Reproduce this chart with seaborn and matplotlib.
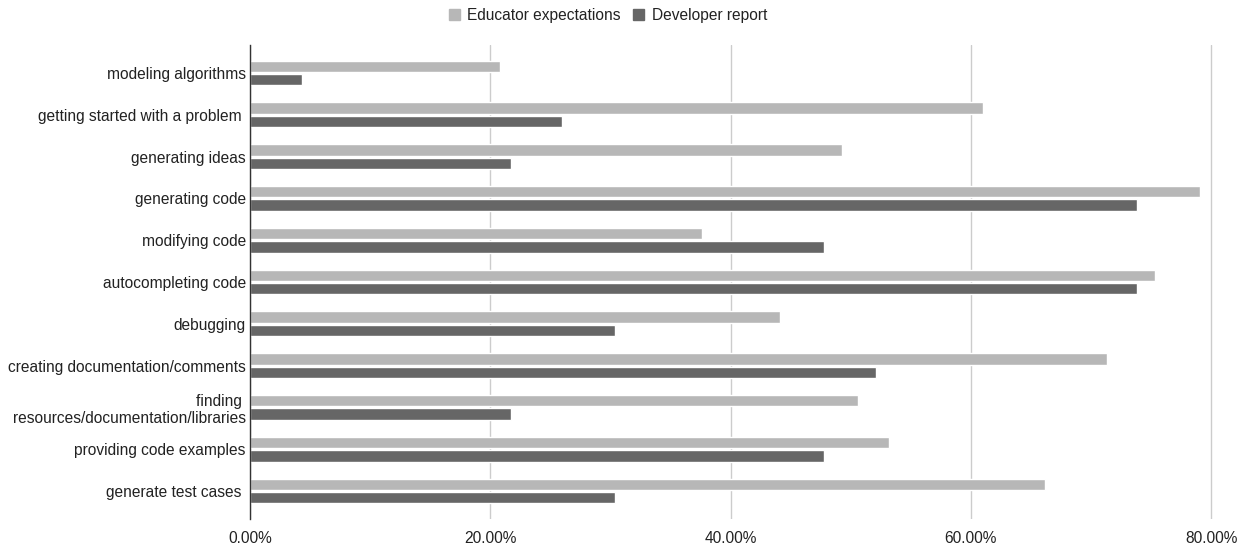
import pandas as pd
import matplotlib.pyplot as plt
import seaborn as sns
from matplotlib.patches import Patch
from matplotlib.ticker import FuncFormatter

# Data (percent)
tasks = [
    "modeling algorithms",
    "getting started with a problem ",
    "generating ideas",
    "generating code",
    "modifying code",
    "autocompleting code",
    "debugging",
    "creating documentation/comments",
    "finding \nresources/documentation/libraries",
    "providing code examples",
    "generate test cases ",
]
educator = [20.8, 61.0, 49.3, 79.1, 37.6, 75.3, 44.1, 71.3, 50.6, 53.2, 66.2]
developer = [4.3, 26.0, 21.7, 73.8, 47.8, 73.8, 30.4, 52.1, 21.7, 47.8, 30.4]
series_names = ["Educator expectations", "Developer report"]
colors = ["#b7b7b7", "#666666"]
x_ticks = [0, 20, 40, 60, 80]

df = pd.DataFrame({
    "task": tasks * 2,
    "value": educator + developer,
    "series": [series_names[0]] * len(tasks) + [series_names[1]] * len(tasks),
})

sns.set_style("white")
plt.rcParams["font.family"] = ["Liberation Sans", "DejaVu Sans"]

fig = plt.figure(figsize=(12.51, 5.46), dpi=100)
ax = fig.add_axes([250 / 1251, 1 - 519 / 546, (1213 - 250) / 1251, (519 - 45) / 546])

sns.barplot(data=df, y="task", x="value", hue="series", order=tasks,
            hue_order=series_names, palette=colors, orient="h",
            width=0.64, gap=0.14, saturation=1, legend=False, ax=ax)
for p in ax.patches:
    p.set_zorder(3)

ax.set_xlim(0, 80.15)
ax.set_ylim(10.67, -0.67)
ax.set_xticks(x_ticks)
ax.xaxis.set_major_formatter(FuncFormatter(lambda v, p: f"{v:.2f}%"))
ax.set_axisbelow(True)
ax.grid(axis="x", color="#cccccc", linewidth=1, zorder=0)
for s in ["top", "right", "bottom"]:
    ax.spines[s].set_visible(False)
ax.spines["left"].set_color("#333333")
ax.spines["left"].set_linewidth(1)
ax.spines["left"].set_zorder(4)
ax.tick_params(axis="x", length=0, pad=8.5, labelsize=11.2, labelcolor="#222222")
ax.tick_params(axis="y", length=0, pad=3, labelsize=11.2, labelcolor="#222222")
ax.set_xlabel("")
ax.set_ylabel("")

handles = [Patch(color=c, label=n) for c, n in zip(colors, series_names)]
fig.legend(handles=handles, loc="center", bbox_to_anchor=(0.486, 0.972), ncol=2,
           frameon=False, fontsize=11.2, handlelength=0.7, handleheight=0.7,
           handletextpad=0.5, columnspacing=0.8, labelcolor="#222222")

fig.savefig("out.png", dpi=100)
